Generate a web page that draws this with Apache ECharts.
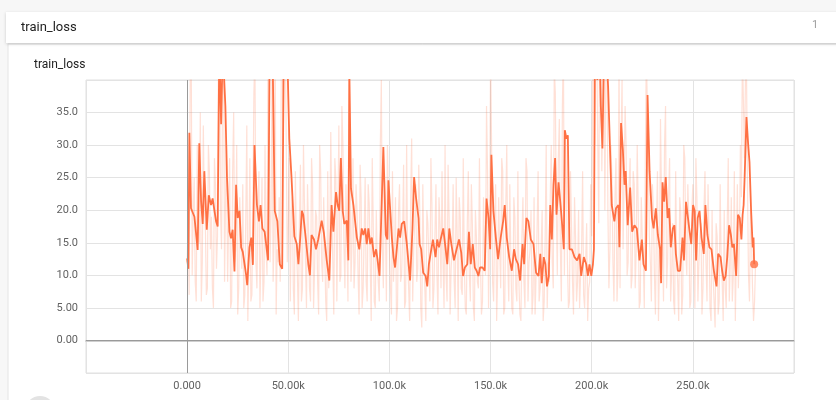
<!DOCTYPE html>
<html><head><meta charset="utf-8">
<script src="https://cdn.jsdelivr.net/npm/echarts@6/dist/echarts.min.js"></script>
<style>html,body{margin:0;padding:0;background:#f7f7f7;}#c{width:836px;height:400px;}</style>
</head><body><div id="c"></div>
<script>
// x-axis steps in thousands
const xTicksK = [-50, 0, 50, 100, 150, 200, 250, 300];
const yTicks = [-5, 0, 5, 10, 15, 20, 25, 30, 35, 40];

// smoothed curve (step in k, loss)
const smoothSteps = [0,0.6,1.1,1.9,3.6,5.2,6.0,6.9,7.7,8.5,9.7,10.7,11.8,12.6,14.3,15.1,15.9,16.8,17.6,18.9,19.7,20.9,21.7,22.5,23.4,24.2,25,25.9,26.7,27.5,28.4,29.2,29.7,30.3,30.8,31.7,32.5,33.3,34.5,35.5,36.3,37.2,38.3,40,40.8,42.2,43.3,44.6,45.8,47,47.8,49.2,50.5,51.6,53,54.2,55,
56,56.7,57.4,58.7,59.9,60.7,61.5,62.7,63.7,64.8,66.5,67.6,69,70.3,71.4,72.3,73.6,74.4,75.2,76,76.9,77.7,78.9,79.7,80.2,81,82.2,83,83.9,85.1,86.3,87.1,88,88.8,89.6,90.5,91.3,92.4,93.4,94.1,95.1,95.7,97,98.2,99,99.5,100.3,101.2,102,102.8,103.7,104.5,105.3,106.1,107.3,108.6,110.2,111.4,112.2,113.2,
114.4,114.9,115.7,116.7,117.9,118.7,119.5,120.7,121.5,122.8,123.6,124.5,125.3,126.6,127.8,128.6,129.6,130.6,131.9,133.2,134.4,135.5,136.4,137.3,138.5,139.3,140.2,141.2,142.2,143.1,144,144.8,146,147.1,148,149,149.8,150.4,151.4,152.6,153.7,155,156.2,157,158,159.2,160.5,161.6,162.5,163.6,164.6,165.8,166.6,167.7,168.7,169.9,171.2,
172,172.5,173.7,174.6,175.3,176.3,177.1,177.9,178.8,179.5,180.3,181.1,181.9,182.6,183.6,184.6,185.4,186.2,186.7,187.5,188.2,189,190.2,191.5,192.8,194,194.8,196.1,197.3,198.1,198.9,199.8,200.6,201.1,201.6,202.8,203.9,204.5,205.3,206.1,207.2,208.1,209.9,211.2,212,213.2,213.7,214.5,215.4,216.2,216.8,217.8,219,220,221.1,222.3,223.6,224.8,225.6,226.8,227.6,228.6,229.8,
230.6,231.7,232.7,233.8,234.3,235,235.8,236.6,237.5,238.3,239.1,240.1,240.9,241.6,242.6,243.7,244.9,245.6,246.6,247.6,248.4,249.2,250.1,250.9,251.6,252.4,253.3,254.3,255.4,256.2,257.2,258.2,259.2,260.4,261.7,262.5,263.7,264.5,265.3,266.2,267,267.9,268.8,269.5,270.3,271.4,272.3,273.2,274,274.6,275.1,275.6,276.5,277.3,278,278.8,279.6,280,280.3];
const smoothLoss = [12.6,11,31.9,20.3,19,13.9,30.3,21.4,17.9,26,17,22.3,20.8,21.8,18.3,17.5,45,33.2,45,36,25,16.7,15.7,17,10.6,23.9,18.8,19.9,14.3,13.6,11.7,10,8.5,11.8,14.3,15.8,11.6,30,20.8,18.3,20.8,17.2,16.7,12.3,45,45,19.9,18.3,11.7,11,48,48,31,25,16,14.8,11.7,
16.2,19.9,19.3,15.5,11.7,10,16.2,15.5,14,15.5,18.4,16.5,12.3,9.2,20.8,16.7,22.8,20.8,19.9,28,19.9,17.9,18.4,12.3,41,23.3,20.8,18.4,15.8,14,17.2,16.2,17.2,14.8,17.2,14.8,15.8,12.8,14,12.5,9.9,10.2,29.7,16.2,15.5,24.6,24.3,15.8,12.8,11.2,14.3,17.2,15.8,17.9,18.3,14.8,9.2,17.2,25.1,21.8,
18.8,14.8,14,10.4,9.9,8.3,11.7,14,15.5,12.8,15.5,14.3,15.5,17.2,14,11.7,17.2,14.8,12.3,14,15.5,13.5,9.9,11.2,11.7,16.7,11.7,14.8,11.2,10.7,9.9,11.2,11.2,10.7,21.8,18.8,14,28.5,19.9,15.8,12.5,15.8,18.3,20.8,15.8,12.8,10.7,14,12.5,11.7,9.2,14.8,11.7,18.8,18.3,15.5,14.8,
12,10.4,9.9,13.3,8.8,12.8,11.7,8.3,9.9,20.8,15.5,23.9,28,19.3,24.3,20.8,17.7,14,32.3,31,31.5,14,14,12.8,12.3,13.3,9.9,12.8,11.7,9.9,11.7,9.9,11.7,14,46,40,45,36,29.5,45,45,39,20.8,18.3,20.3,20.8,14.3,33.4,29.3,23.9,26,17.7,23.5,16.7,17.7,17.2,12.3,15.5,11.7,10.7,37.7,26,18.8,
17.2,20.3,16.2,14,8.8,24.3,21.3,25.1,18.8,20.3,14.3,17.2,17.7,13.3,10.7,10.7,15.8,12.3,21.3,18.8,16.7,14.8,20.8,19.9,12.3,18.8,19.9,15.8,13.3,20.8,16.2,14.3,14,10.7,8.3,13.3,12.8,10.7,9.2,9.9,12.8,17.7,16.2,14.3,14.8,9.9,19.3,18.8,15.5,19.3,20.8,25.1,34.3,30.3,27.4,19.9,14.3,15.8,11.7];

// raw (unsmoothed) loss at whole k steps (0k, 1k, 2k ...)
const rawLoss = [
12,7,45,20,9,30,15,6,33,18,8,26,19,5,24,16,50,14,48,22,
9,28,6,35,14,4,22,11,5,19,3,28,7,38,12,20,5,25,9,14,
48,12,44,16,4,12,9,50,45,30,18,6,22,4,15,3,27,8,21,5,
17,6,24,11,19,4,26,9,14,3,8,32,12,28,6,33,10,30,8,16,
47,9,28,12,20,4,22,8,25,6,21,3,18,5,12,6,40,8,19,30,
14,4,9,22,5,24,10,27,6,13,3,31,14,24,11,20,2,14,3,18,
6,21,8,24,4,18,26,5,10,27,4,14,9,25,3,19,7,12,4,26,
6,18,3,16,8,12,6,14,36,5,44,9,18,3,22,8,26,5,30,6,
13,4,19,6,9,3,22,5,26,12,20,7,4,17,6,14,3,16,5,9,
30,8,38,10,34,6,45,32,12,6,18,4,16,9,5,14,7,12,3,9,
16,52,48,30,55,26,50,42,20,14,25,6,28,11,8,40,24,30,12,28,
10,24,14,20,6,16,5,44,30,12,24,10,18,3,34,14,30,8,22,6,
18,4,12,3,20,7,28,10,19,6,24,5,22,12,18,8,26,6,16,3,
10,2,16,6,12,3,8,18,6,22,10,3,24,14,22,45,40,24,6,16,
3,12];
// raw loss at the half steps (0.5k, 1.5k ...)
const rawLossHalf = [
18,40,10,25,6,22,35,12,20,7,30,14,8,28,11,45,20,38,9,30,
18,5,26,12,30,8,16,24,7,33,12,6,20,44,8,26,14,6,30,10,
35,20,9,50,14,22,40,30,48,12,28,20,8,26,10,18,6,30,12,24,
8,28,5,20,9,30,12,22,6,26,14,20,4,25,18,9,36,15,24,6,
30,15,8,24,10,27,5,16,9,24,12,28,6,20,9,30,14,26,6,22,
8,26,14,3,20,9,16,5,30,8,22,6,18,9,27,5,24,8,20,12,
28,5,16,10,22,8,12,30,6,19,11,24,5,16,22,8,28,5,18,10,
24,5,20,9,28,4,22,10,26,16,30,6,24,10,14,28,4,20,12,24,
5,22,8,26,4,16,9,28,6,14,4,22,10,26,8,20,6,30,12,22,
12,42,20,28,14,36,10,24,5,26,9,22,6,20,10,26,5,18,8,24,
40,30,45,18,44,36,20,48,8,30,12,22,6,44,30,14,36,10,24,8,
26,8,30,5,22,12,28,36,16,6,20,4,26,12,22,6,36,12,28,10,
6,26,9,22,4,30,14,24,5,20,12,28,6,16,4,20,12,24,5,20,
6,18,4,24,9,20,5,28,12,6,26,14,8,30,45,28,42,10,20,8,
6];

const runName = 'train_loss';
const lineColor = '#ff7043';

const smoothData = smoothSteps.map((s, i) => [s, smoothLoss[i]]);
const rawData = [];
rawLoss.forEach((v, i) => {
  rawData.push([i, v]);
  if (i < rawLossHalf.length) rawData.push([i + 0.5, rawLossHalf[i]]);
});
const lastPoint = smoothData[smoothData.length - 1];

const chart = echarts.init(document.getElementById('c'), null, {renderer: 'canvas'});
const F = 'Roboto, "Noto Sans", sans-serif';

chart.setOption({
  animation: false,
  backgroundColor: '#f7f7f7',
  graphic: [
    {type: 'rect', z: -10, shape: {x: 6, y: 12, width: 840, height: 31}, style: {fill: '#fff', shadowBlur: 3, shadowColor: 'rgba(0,0,0,0.18)', shadowOffsetY: 1}},
    {type: 'rect', z: -11, shape: {x: 8, y: 44, width: 840, height: 370}, style: {fill: '#fff', stroke: '#e4e4e4', lineWidth: 1}},
    {type: 'text', left: 21, top: 21, style: {text: runName, font: '13px ' + F, fill: '#212121'}},
    {type: 'text', left: 812, top: 20, style: {text: '1', font: '11px ' + F, fill: '#9e9e9e'}},
    {type: 'text', left: 34, top: 59, style: {text: runName, font: '12px ' + F, fill: '#212121'}},
    {type: 'circle', z: -5, shape: {cx: 40, cy: 411, r: 15}, style: {fill: '#e3e3e3'}}
  ],
  grid: {left: 86, right: 42, top: 80, bottom: 27, show: true, borderColor: '#e0e0e0', borderWidth: 1},
  xAxis: {
    type: 'value', min: -50, max: 300, interval: 50,
    axisLine: {show: true, lineStyle: {color: '#cfcfcf', width: 2}},
    axisTick: {show: false},
    splitLine: {show: true, lineStyle: {color: '#e3e3e3', width: 1}},
    axisLabel: {
      color: '#616161', fontSize: 11, fontFamily: F, margin: 8,
      showMinLabel: false, showMaxLabel: false,
      formatter: v => (v <= -50 || v >= 300) ? '' : (v === 0 ? '0.000' : v.toPrecision(4) + 'k')
    }
  },
  yAxis: {
    type: 'value', min: -5, max: 40, interval: 5,
    axisLine: {show: false}, axisTick: {show: false},
    splitLine: {show: true, lineStyle: {color: '#e3e3e3', width: 1}},
    axisLabel: {
      color: '#616161', fontSize: 11, fontFamily: F, margin: 8,
      showMinLabel: false, showMaxLabel: false,
      formatter: v => (v < 0 || v >= 40) ? '' : (v === 0 ? '0.00' : v.toPrecision(3))
    }
  },
  series: [
    {
      type: 'line', data: rawData, showSymbol: false, clip: true, z: 2,
      lineStyle: {color: lineColor, width: 1.2, opacity: 0.22},
      silent: true,
      markLine: {
        silent: true, symbol: 'none', label: {show: false},
        lineStyle: {color: '#9a9a9a', width: 1, type: 'solid', opacity: 1},
        data: [{yAxis: 0}, {xAxis: 0}]
      }
    },
    {
      type: 'line', data: smoothData, showSymbol: false, clip: true, z: 3,
      lineStyle: {color: lineColor, width: 1.8}
    },
    {
      type: 'scatter', data: [lastPoint], symbolSize: 8, z: 4,
      itemStyle: {color: lineColor}
    }
  ]
});
</script></body></html>
